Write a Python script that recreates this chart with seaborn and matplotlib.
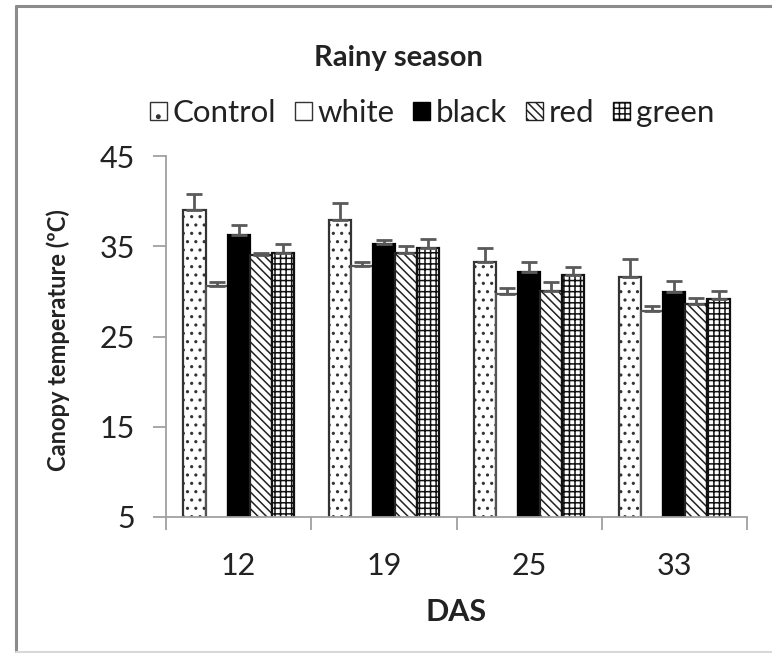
import matplotlib
matplotlib.use("Agg")
import matplotlib.pyplot as plt
import matplotlib.patches as mpatches
from matplotlib.lines import Line2D
import numpy as np
import pandas as pd
import seaborn as sns

# ---- data ----
das = ["12", "19", "25", "33"]
treatments = ["Control", "white", "black", "red", "green"]
control = [39.0, 37.9, 33.2, 31.6]
white = [30.6, 32.8, 29.7, 27.8]
black = [36.2, 35.2, 32.2, 29.9]
red = [34.0, 34.2, 30.0, 28.6]
green = [34.3, 34.85, 31.8, 29.1]
control_err = [1.8, 1.9, 1.6, 2.0]
white_err = [0.4, 0.4, 0.7, 0.55]
black_err = [1.1, 0.5, 1.1, 1.3]
red_err = [0.2, 0.8, 1.0, 0.7]
green_err = [0.9, 1.0, 0.9, 0.9]

values = {"Control": control, "white": white, "black": black, "red": red, "green": green}
errors = {"Control": control_err, "white": white_err, "black": black_err, "red": red_err, "green": green_err}

rows = []
for t in treatments:
    for d, v in zip(das, values[t]):
        rows.append({"DAS": d, "Treatment": t, "Temp": v})
df = pd.DataFrame(rows)

# ---- style ----
sns.set_style("white")
plt.rcParams["font.family"] = ["Lato", "DejaVu Sans"]
plt.rcParams["hatch.linewidth"] = 1.1

faces = {"Control": "white", "white": "white", "black": "black", "red": "white", "green": "white"}
hatches = {"Control": "..", "white": "", "black": "", "red": "\\\\\\\\", "green": "+++"}
edges = {"Control": "#333333", "white": "#555555", "black": "black", "red": "#222222", "green": "#111111"}

W, H = 772, 653
fig = plt.figure(figsize=(W / 100, H / 100), dpi=100)
ax = fig.add_axes([166 / W, 1 - 517 / H, (747 - 166) / W, (517 - 156) / H])

sns.barplot(data=df, x="DAS", y="Temp", hue="Treatment", order=das, hue_order=treatments,
            palette=faces, errorbar=None, width=0.76, linewidth=1.6, edgecolor="#333333",
            legend=False, ax=ax)

for cont, t in zip(ax.containers, treatments):
    xs, ys = [], []
    for p in cont.patches:
        p.set_facecolor(faces[t])
        p.set_edgecolor(edges[t])
        p.set_hatch(hatches[t])
        xs.append(p.get_x() + p.get_width() / 2)
        ys.append(p.get_height())
    err = np.array(errors[t])
    ax.errorbar(xs, ys, yerr=[np.zeros_like(err), err], fmt="none", ecolor="#5a5a5a",
                elinewidth=2, capsize=5.8, capthick=2, zorder=1)

ax.set_ylim(5, 45)
ax.set_xlim(-0.5, 3.5)
ax.set_yticks([5, 15, 25, 35, 45])
ax.set_xticks(range(len(das)))
ax.set_xticks(np.arange(-0.5, 3.6, 1.0), minor=True)
ax.set_xticklabels(das)
ax.set_xlabel("")
ax.set_ylabel("")

for side in ["top", "right"]:
    ax.spines[side].set_visible(False)
for side in ["left", "bottom"]:
    ax.spines[side].set_color("#a0a0a0")
    ax.spines[side].set_linewidth(1.3)

ax.tick_params(axis="y", which="major", direction="out", length=9.5, width=1.3, color="#a0a0a0",
               labelsize=22, pad=13, labelcolor="#222222", left=True)
ax.tick_params(axis="x", which="major", length=0, labelsize=22, pad=25, labelcolor="#222222", bottom=True)
ax.tick_params(axis="x", which="minor", direction="out", length=9.5, width=1.3, color="#a0a0a0", bottom=True)

# legend
handles = [mpatches.Patch(facecolor=faces[t], edgecolor=edges[t] if t != "white" else "#333333",
                          hatch=hatches[t] if t != "Control" else ".", linewidth=1.0, label=t)
           for t in treatments]
fig.legend(handles=handles, loc="center", bbox_to_anchor=(432 / W, 1 - 113 / H), ncol=5,
           frameon=False, fontsize=22.5, handlelength=0.55, handleheight=0.55, handletextpad=0.18,
           columnspacing=0.6, borderpad=0, labelcolor="#222222")

fig.text(398 / W, 1 - 58 / H, "Rainy season", ha="center", va="center", fontsize=21,
         fontweight="bold", color="#222222")
fig.text(58 / W, 1 - 340 / H, "Canopy temperature (ºC)", ha="center", va="center", rotation=90,
         fontsize=17, fontweight="bold", color="#222222")
fig.text(456 / W, 1 - 612 / H, "DAS", ha="center", va="center", fontsize=22,
         fontweight="bold", color="#222222")

# outer frame
fig.add_artist(Line2D([16 / W, 16 / W], [1 - 652 / H, 1 - 6 / H], transform=fig.transFigure,
                      color="#8c8c8c", lw=2.2))
fig.add_artist(Line2D([16 / W, 1.0], [1 - 6 / H, 1 - 6 / H], transform=fig.transFigure,
                      color="#8c8c8c", lw=2.2))
fig.add_artist(Line2D([16 / W, 1.0], [1 - 651.5 / H, 1 - 651.5 / H], transform=fig.transFigure,
                      color="#d8d8d8", lw=1.5))

fig.savefig("out.png", dpi=100)
